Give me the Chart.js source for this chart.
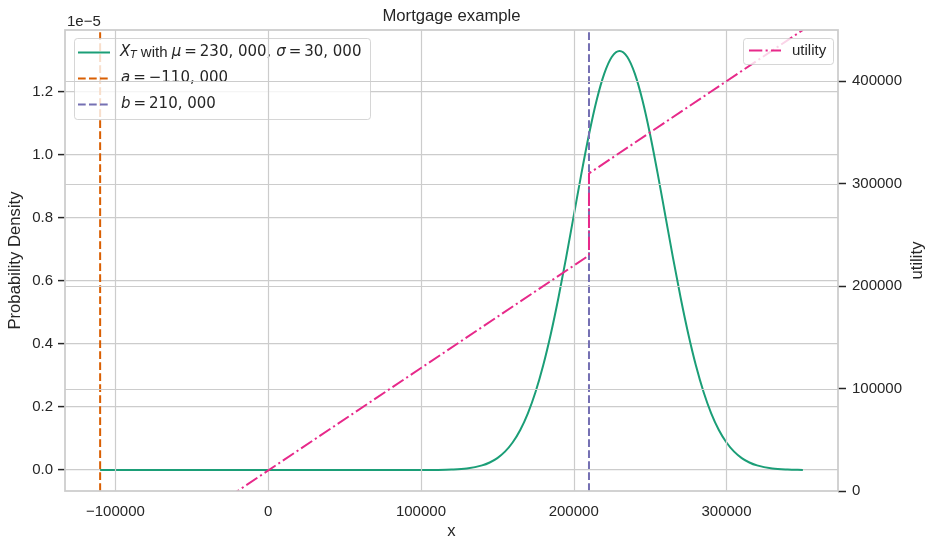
<!DOCTYPE html>
<html><head><meta charset="utf-8">
<script src="https://cdn.jsdelivr.net/npm/chart.js@4.4.1/dist/chart.umd.min.js"></script>
<style>html,body{margin:0;padding:0;background:#fff;}#wrap{width:935px;height:550px;}</style>
</head><body><div id="wrap"><canvas id="c" width="935" height="550"></canvas></div>
<script>
// ---- data (density in units of 1e-5) ----
const densityX = [-110000, 100000, 110000, 120000, 130000, 140000, 145000, 150000, 155000, 160000, 165000, 170000, 175000, 180000, 185000, 190000, 195000, 200000, 205000, 210000, 215000, 220000, 225000, 230000, 235000, 240000, 245000, 250000, 255000, 260000, 265000, 270000, 275000, 280000, 285000, 290000, 295000, 300000, 305000, 310000, 315000, 320000, 330000, 340000, 350000];
const densityE5 = [0, 0.0001, 0.0004, 0.0016, 0.0051, 0.0148, 0.0240, 0.0380, 0.0584, 0.0874, 0.1272, 0.1800, 0.2477, 0.3316, 0.4317, 0.5467, 0.6733, 0.8066, 0.9398, 1.0648, 1.1735, 1.2579, 1.3115, 1.3298, 1.3115, 1.2579, 1.1735, 1.0648, 0.9398, 0.8066, 0.6733, 0.5467, 0.4317, 0.3316, 0.2477, 0.1800, 0.1272, 0.0874, 0.0584, 0.0380, 0.0240, 0.0148, 0.0051, 0.0016, 0.0004];
const aValue = -110000;
const bValue = 210000;
const utilityX = [-110000, 210000, 210000, 350000];
const utilityY = [-90000, 230000, 310000, 450000];
const xTicks = [-100000, 0, 100000, 200000, 300000];
const leftTicks = [0, 0.2, 0.4, 0.6, 0.8, 1.0, 1.2];
const rightTicks = [0, 100000, 200000, 300000, 400000];
const xRange = [-133000, 373000];
const leftRange = [-0.0665, 1.3963];
const rightRange = [0, 450000];

const TXT_COLOR = '#262626';
const GRID = '#cccccc';
const SANS = '"Liberation Sans", Arial, sans-serif';
const DJV = '"DejaVu Sans", sans-serif';
const fmtNum = v => (v < 0 ? '\u2212' + Math.abs(v) : String(v));

function drawRich(ctx, x, y, segs) {
  ctx.textBaseline = 'middle'; ctx.textAlign = 'left'; ctx.fillStyle = TXT_COLOR;
  for (const [t, f, dy] of segs) {
    ctx.font = f; ctx.fillText(t, x, y + (dy || 0)); x += ctx.measureText(t).width;
  }
}
function roundRect(ctx, x, y, w, h, r) {
  ctx.beginPath();
  ctx.moveTo(x + r, y); ctx.lineTo(x + w - r, y); ctx.arcTo(x + w, y, x + w, y + r, r);
  ctx.lineTo(x + w, y + h - r); ctx.arcTo(x + w, y + h, x + w - r, y + h, r);
  ctx.lineTo(x + r, y + h); ctx.arcTo(x, y + h, x, y + h - r, r);
  ctx.lineTo(x, y + r); ctx.arcTo(x, y, x + r, y, r); ctx.closePath();
}
function legendFrame(ctx, x, y, w, h) {
  roundRect(ctx, x + 0.5, y + 0.5, w, h, 3);
  ctx.fillStyle = 'rgba(255,255,255,0.8)'; ctx.fill();
  ctx.strokeStyle = 'rgba(204,204,204,0.8)'; ctx.lineWidth = 1; ctx.stroke();
}
function sample(ctx, x1, x2, y, color, dash) {
  ctx.save(); ctx.beginPath(); ctx.setLineDash(dash); ctx.strokeStyle = color; ctx.lineWidth = 2;
  ctx.moveTo(x1, y); ctx.lineTo(x2, y); ctx.stroke(); ctx.restore();
}

const deco = {
  id: 'deco',
  afterDatasetDraw(chart, args) {
    if (args.index !== 2) return;
    const ctx = chart.ctx, ca = chart.chartArea;
    // left legend (ax1)
    ctx.save();
    legendFrame(ctx, 74, 38, 296, 81);
    sample(ctx, 78, 110, 52.5, '#1b9e77', []);
    sample(ctx, 78, 110, 78.5, '#d95f02', [7.7, 3.3]);
    sample(ctx, 78, 110, 104.5, '#7570b3', [7.7, 3.3]);
    const MI = 'italic 15px ' + DJV, MR = '15px ' + DJV, TX = '15px ' + SANS;
    const TS = '\u2009';
    drawRich(ctx, 120, 52.5, [['X', MI], ['T', 'italic 10.5px ' + DJV, 3], [' with ', TX], ['\u03bc', MI], [TS + '=' + TS + '230, 000, ', MR], ['\u03c3', MI], [TS + '=' + TS + '30, 000', MR]]);
    drawRich(ctx, 121, 78.5, [['a', MI], [TS + '=' + TS + '\u2212110, 000', MR]]);
    drawRich(ctx, 121, 104.5, [['b', MI], [TS + '=' + TS + '210, 000', MR]]);
    // ax2 grid lines drawn over ax1 content
    ctx.beginPath(); ctx.rect(ca.left, ca.top, ca.right - ca.left, ca.bottom - ca.top); ctx.clip();
    ctx.strokeStyle = GRID; ctx.lineWidth = 1.2;
    const xs = chart.scales.x, y2 = chart.scales.y2;
    for (const v of xTicks) { const p = Math.round(xs.getPixelForValue(v)) + 0.5; ctx.beginPath(); ctx.moveTo(p, ca.top); ctx.lineTo(p, ca.bottom); ctx.stroke(); }
    for (const v of rightTicks) { const p = Math.round(y2.getPixelForValue(v)) + 0.5; ctx.beginPath(); ctx.moveTo(ca.left, p); ctx.lineTo(ca.right, p); ctx.stroke(); }
    ctx.restore();
  },
  afterDatasetsDraw(chart) {
    const ctx = chart.ctx, ca = chart.chartArea;
    ctx.save();
    // right legend (ax2)
    legendFrame(ctx, 743, 38, 90, 26);
    sample(ctx, 749, 781, 50.5, '#e7298a', [13.3, 3.3, 2.1, 3.3]);
    drawRich(ctx, 792, 50.5, [['utility', '15px ' + SANS]]);
    // spines
    ctx.strokeStyle = GRID; ctx.lineWidth = 1.75; ctx.setLineDash([]);
    ctx.strokeRect(ca.left, ca.top, ca.right - ca.left, ca.bottom - ca.top);
    // titles
    ctx.fillStyle = TXT_COLOR; ctx.textAlign = 'center'; ctx.textBaseline = 'alphabetic';
    ctx.font = '16.7px ' + SANS;
    ctx.fillText('Mortgage example', (ca.left + ca.right) / 2, 21);
    ctx.fillText('x', (ca.left + ca.right) / 2, 536);
    const cy = (ca.top + ca.bottom) / 2;
    ctx.textBaseline = 'middle';
    ctx.save(); ctx.translate(15, cy); ctx.rotate(-Math.PI / 2); ctx.fillText('Probability Density', 0, 0); ctx.restore();
    ctx.save(); ctx.translate(917, cy); ctx.rotate(-Math.PI / 2); ctx.fillText('utility', 0, 0); ctx.restore();
    ctx.font = '15px ' + SANS; ctx.textAlign = 'left'; ctx.textBaseline = 'alphabetic';
    ctx.fillText('1e\u22125', 67, 26);
    ctx.restore();
  }
};

const tickFont = { family: SANS, size: 15 };
new Chart(document.getElementById('c'), {
  type: 'line',
  data: {
    datasets: [
      { label: 'density', data: densityX.map((x, i) => ({ x, y: densityE5[i] })), borderColor: '#1b9e77', borderWidth: 2, pointRadius: 0, yAxisID: 'y', cubicInterpolationMode: 'monotone', order: 4 },
      { label: 'a', data: [{ x: aValue, y: leftRange[0] }, { x: aValue, y: leftRange[1] }], borderColor: '#d95f02', borderDash: [7.7, 3.3], borderWidth: 2, pointRadius: 0, yAxisID: 'y', order: 3 },
      { label: 'b', data: [{ x: bValue, y: leftRange[0] }, { x: bValue, y: leftRange[1] }], borderColor: '#7570b3', borderDash: [7.7, 3.3], borderWidth: 2, pointRadius: 0, yAxisID: 'y', order: 2 },
      { label: 'utility', data: utilityX.map((x, i) => ({ x, y: utilityY[i] })), borderColor: '#e7298a', borderDash: [13.3, 3.3, 2.1, 3.3], borderWidth: 2, pointRadius: 0, yAxisID: 'y2', order: 1 }
    ]
  },
  options: {
    responsive: false, animation: false, devicePixelRatio: 1, events: [],
    layout: { padding: { top: 30, left: 0, right: 0, bottom: 0 } },
    plugins: { legend: { display: false }, title: { display: false }, tooltip: { enabled: false } },
    scales: {
      x: {
        type: 'linear', position: 'bottom', min: xRange[0], max: xRange[1],
        afterBuildTicks: s => { s.ticks = xTicks.map(v => ({ value: v })); },
        afterFit: s => { s.height = 59; },
        grid: { display: false, drawTicks: false }, border: { display: false },
        ticks: { color: TXT_COLOR, font: tickFont, padding: 12, maxRotation: 0, autoSkip: false, callback: v => fmtNum(v) }
      },
      y: {
        type: 'linear', position: 'left', min: leftRange[0], max: leftRange[1],
        afterBuildTicks: s => { s.ticks = leftTicks.map(v => ({ value: v })); },
        afterFit: s => { s.width = 65; },
        grid: { color: GRID, lineWidth: 1.2, drawTicks: true, tickLength: 7, tickColor: TXT_COLOR, tickWidth: 1.5 },
        border: { display: false },
        ticks: { color: TXT_COLOR, font: tickFont, padding: 5, autoSkip: false, callback: v => v.toFixed(1) }
      },
      y2: {
        type: 'linear', position: 'right', min: rightRange[0], max: rightRange[1],
        afterBuildTicks: s => { s.ticks = rightTicks.map(v => ({ value: v })); },
        afterFit: s => { s.width = 97; },
        grid: { color: 'rgba(0,0,0,0)', drawOnChartArea: true, drawTicks: true, tickLength: 8, tickColor: TXT_COLOR, tickWidth: 1.5 },
        border: { display: false },
        ticks: { color: TXT_COLOR, font: tickFont, padding: 6, autoSkip: false, callback: v => String(v) }
      }
    }
  },
  plugins: [deco]
});
</script></body></html>
